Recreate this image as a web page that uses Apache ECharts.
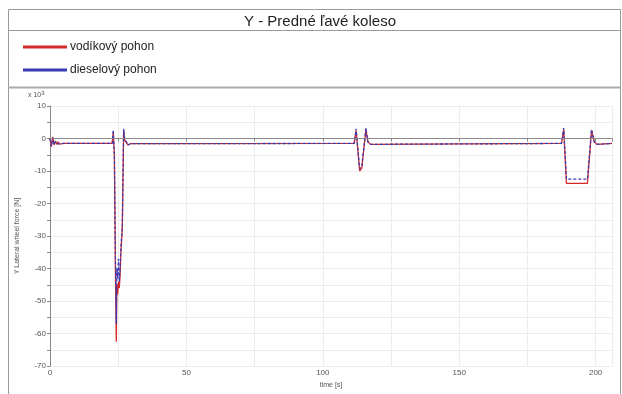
<!DOCTYPE html>
<html><head><meta charset="utf-8">
<script src="https://cdn.jsdelivr.net/npm/echarts@6/dist/echarts.min.js"></script>
<style>html,body{margin:0;padding:0;background:#fff}#c{width:622px;height:394px}</style>
</head><body><div id="c"></div>
<script>
const titleText = 'Y - Predné ľavé koleso';
const seriesNames = ['vodíkový pohon', 'dieselový pohon'];
const xTicks = [0, 50, 100, 150, 200];
const yTicks = [10, 0, -10, -20, -30, -40, -50, -60, -70];

// time [s]
const tRed = [0, 0.5, 1, 1.5, 2, 2.5, 3, 3.5, 4, 5, 22.8, 23.2, 23.6, 24.0, 24.3, 24.5, 24.8, 25.1, 25.4, 25.7, 26.0, 26.5, 27.0, 27.4, 28.0, 28.6, 29.5, 30, 111.5, 112.2, 113.5, 114.3, 115.8, 116.5, 117.5, 118, 187.5, 188.3, 189.3, 197, 198.5, 199.5, 200.5, 206];
// force x10^3 N
const vRed = [0, -2.5, 0.5, -2, -0.8, -1.8, -1.0, -1.7, -1.2, -1.5, -1.5, 2.0, -5, -42, -62.5, -45, -48, -44, -46, -42, -35, -28, 2.5, -0.5, -1.0, -2.0, -1.6, -1.5, -1.5, 2.5, -10, -9, 2.8, -1, -1.8, -1.5, -1.5, 2.8, -13.8, -13.8, 2.5, -1, -1.8, -1.5];

const tBlue = [0, 0.5, 1, 1.5, 2, 2.5, 3, 3.5, 4, 5, 22.8, 23.2, 23.6, 24.0, 24.3, 24.5, 24.8, 25.1, 25.4, 25.7, 26.0, 26.5, 27.0, 27.4, 28.0, 28.6, 29.5, 30, 111.5, 112.2, 113.5, 114.3, 115.8, 116.5, 117.5, 118, 187.5, 188.3, 189.3, 197, 198.5, 199.5, 200.5, 206];
const vBlue = [0, -2.3, 0.3, -1.9, -0.9, -1.7, -1.1, -1.6, -1.3, -1.5, -1.5, 2.6, -6, -38, -57, -40, -43, -37, -44, -40, -33, -27, 3.0, -0.3, -1.0, -2.0, -1.6, -1.5, -1.5, 3.0, -9.3, -8.5, 3.2, -1, -1.8, -1.5, -1.5, 3.2, -12.5, -12.5, 2.8, -1, -1.8, -1.5];

const pair = (t, v) => t.map((x, i) => [x, v[i]]);
const font = 'Liberation Sans, Arial, sans-serif';
const chart = echarts.init(document.getElementById('c'), null, {renderer: 'canvas'});
chart.setOption({
  animation: false,
  backgroundColor: '#fff',
  title: {text: titleText, left: 315, top: 9, textAlign: 'center',
    textStyle: {fontFamily: font, fontSize: 15, fontWeight: 'normal', color: '#222'}},
  legend: {orient: 'vertical', left: 18, top: 36, itemGap: 11, itemWidth: 44, itemHeight: 3,
    icon: 'rect', data: seriesNames,
    textStyle: {fontFamily: font, fontSize: 12, color: '#222', padding: [0, 0, 0, -2]}},
  graphic: [
    {type: 'rect', shape: {x: 8.5, y: 9.5, width: 612, height: 390}, style: {fill: 'none', stroke: '#9a9a9a', lineWidth: 1}, silent: true},
    {type: 'line', shape: {x1: 8, y1: 30.5, x2: 621, y2: 30.5}, style: {stroke: '#9a9a9a', lineWidth: 1}},
    {type: 'line', shape: {x1: 8, y1: 87.5, x2: 621, y2: 87.5}, style: {stroke: '#aaaaaa', lineWidth: 2}},
    {type: 'text', left: 28, top: 90, style: {text: 'x 10{s|3}', fontFamily: font, fontSize: 7, fill: '#555',
      rich: {s: {fontSize: 6, verticalAlign: 'top', padding: [0, 0, 4, 0], fill: '#555'}}}}
  ],
  grid: {left: 50, right: 10, top: 106, bottom: 19},
  xAxis: {type: 'value', min: 0, max: 206, interval: 50,
    name: 'time [s]', nameLocation: 'middle', nameGap: 14,
    nameTextStyle: {fontFamily: font, fontSize: 7, color: '#555'},
    axisLine: {lineStyle: {color: '#888'}}, axisTick: {show: true, length: 3, lineStyle: {color: '#888'}},
    minorTick: {show: true, splitNumber: 2, length: 3, lineStyle: {color: '#888'}},
    axisLabel: {fontFamily: font, fontSize: 8, color: '#555', margin: 3,
      formatter: v => xTicks.includes(v) ? String(v) : ''},
    splitLine: {show: true, lineStyle: {color: '#ececec'}},
    minorSplitLine: {show: true, lineStyle: {color: '#ececec'}}},
  yAxis: {type: 'value', min: -70, max: 10, interval: 10,
    name: 'Y Lateral wheel force [N]', nameLocation: 'middle', nameGap: 29, nameRotate: 90,
    nameTextStyle: {fontFamily: font, fontSize: 7, color: '#555'},
    axisLine: {show: true, lineStyle: {color: '#888'}}, axisTick: {show: true, length: 3, lineStyle: {color: '#888'}},
    minorTick: {show: true, splitNumber: 2, length: 3, lineStyle: {color: '#888'}},
    axisLabel: {fontFamily: font, fontSize: 8, color: '#555', margin: 4,
      formatter: v => yTicks.includes(v) ? String(v) : ''},
    splitLine: {show: true, lineStyle: {color: '#ececec'}},
    minorSplitLine: {show: true, lineStyle: {color: '#ececec'}}},
  series: [
    {name: seriesNames[0], type: 'line', data: pair(tRed, vRed), showSymbol: false, symbol: 'none',
      color: '#d42a2a', lineStyle: {color: '#d42a2a', width: 1.3},
      markLine: {silent: true, symbol: 'none', label: {show: false},
        lineStyle: {color: '#8a8a8a', type: 'solid', width: 1}, data: [{yAxis: 0}]}},
    {name: seriesNames[1], type: 'line', data: pair(tBlue, vBlue), showSymbol: false, symbol: 'none',
      color: '#3a3ab4', lineStyle: {color: '#3a3ab4', width: 1.3, type: [3, 2]}}
  ]
});
</script></body></html>
